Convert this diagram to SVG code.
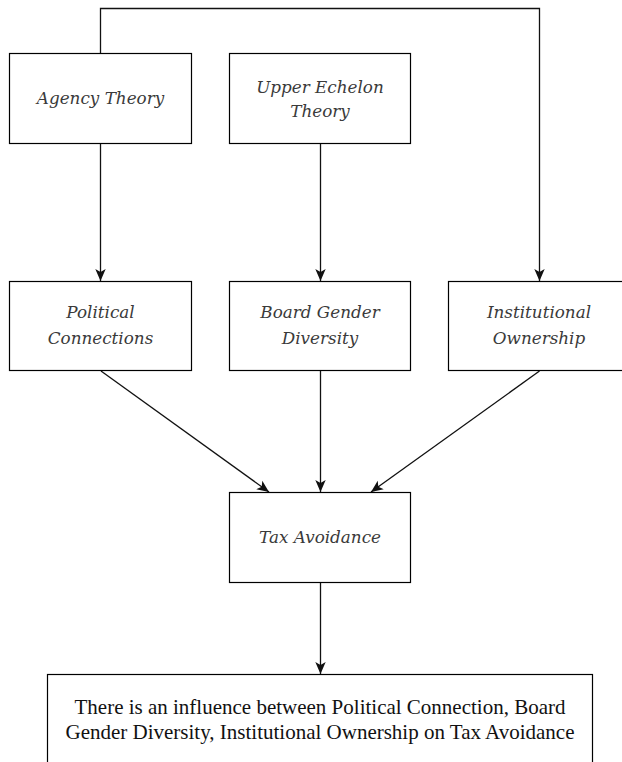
<svg xmlns="http://www.w3.org/2000/svg" width="622" height="762" viewBox="0 0 622 762">
<style>
.box{fill:#fff;stroke:#000;stroke-width:1.2}
.lbl{font-family:"DejaVu Serif","Liberation Serif",serif;font-style:italic;font-size:16.8px;fill:#3a3a3a;text-anchor:middle}
.body{font-family:"Liberation Serif","Times New Roman",serif;font-size:21px;fill:#111;text-anchor:middle}
.edge{fill:none;stroke:#111;stroke-width:1.3}
</style>
<defs>
<marker id="arr" viewBox="0 0 12 12" refX="12" refY="6" markerWidth="12" markerHeight="12" markerUnits="userSpaceOnUse" orient="auto">
<path d="M0,0.8 L12,6 L0,11.2 L3,6 Z" fill="#111"/>
</marker>
</defs>
<rect width="622" height="762" fill="#fff"/>
<g id="connectors">
<path class="edge" d="M100.5,53 V8.5 H539.5 V281" marker-end="url(#arr)"/>
<path class="edge" d="M100.5,144 V281" marker-end="url(#arr)"/>
<path class="edge" d="M320.5,144 V281" marker-end="url(#arr)"/>
<path class="edge" d="M101,371 L269,492" marker-end="url(#arr)"/>
<path class="edge" d="M320.5,371 V492" marker-end="url(#arr)"/>
<path class="edge" d="M539.5,371 L371,492" marker-end="url(#arr)"/>
<path class="edge" d="M320.5,583 V674" marker-end="url(#arr)"/>
</g>
<g id="agency">
<rect class="box" x="9.5" y="53.5" width="182" height="90"/>
<text class="lbl" x="100.5" y="104">Agency Theory</text>
</g>
<g id="upper-echelon">
<rect class="box" x="229.5" y="53.5" width="181" height="90"/>
<text class="lbl" x="320" y="93">Upper Echelon</text>
<text class="lbl" x="320" y="117">Theory</text>
</g>
<g id="political">
<rect class="box" x="9.5" y="281.5" width="182" height="89"/>
<text class="lbl" x="100.5" y="318">Political</text>
<text class="lbl" x="100.5" y="344">Connections</text>
</g>
<g id="board">
<rect class="box" x="229.5" y="281.5" width="181" height="89"/>
<text class="lbl" x="320" y="318">Board Gender</text>
<text class="lbl" x="320" y="344">Diversity</text>
</g>
<g id="institutional">
<rect class="box" x="448.5" y="281.5" width="182" height="89"/>
<text class="lbl" x="539" y="318">Institutional</text>
<text class="lbl" x="539" y="344">Ownership</text>
</g>
<g id="tax">
<rect class="box" x="229.5" y="492.5" width="181" height="90"/>
<text class="lbl" x="320" y="543">Tax Avoidance</text>
</g>
<g id="conclusion">
<rect class="box" x="47.5" y="674.5" width="545" height="95"/>
<text class="body" x="320" y="714">There is an influence between Political Connection, Board</text>
<text class="body" x="320" y="739">Gender Diversity, Institutional Ownership on Tax Avoidance</text>
</g>
</svg>
